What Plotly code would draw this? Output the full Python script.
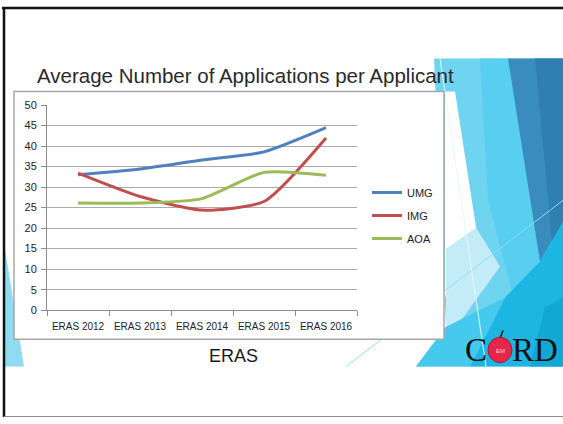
import plotly.graph_objects as go

years = ["ERAS 2012", "ERAS 2013", "ERAS 2014", "ERAS 2015", "ERAS 2016"]
umg = [33.0, 34.4, 36.6, 38.6, 44.5]
img = [33.4, 27.7, 24.4, 26.5, 42.0]
aoa = [26.1, 26.1, 27.2, 33.6, 32.9]

W, H = 563, 424


def px(x):
    return x / W


def py(y):
    return 1 - y / H


def poly(points, color):
    path = "M " + " L ".join(f"{px(x):.4f},{py(y):.4f}" for x, y in points) + " Z"
    return dict(type="path", path=path, xref="paper", yref="paper",
                fillcolor=color, line_width=0, layer="below")


def seg(x0, y0, x1, y1, color, width):
    return dict(type="line", xref="paper", yref="paper",
                x0=px(x0), y0=py(y0), x1=px(x1), y1=py(y1),
                line=dict(color=color, width=width), layer="below")


fig = go.Figure()

series = [("UMG", umg, "#4F81BD"), ("IMG", img, "#C0504D"), ("AOA", aoa, "#9BBB59")]
for name, vals, color in series:
    fig.add_trace(
        go.Scatter(
            x=years,
            y=vals,
            mode="lines",
            name=name,
            legendgroup=name,
            line=dict(color=color, width=3, shape="spline", smoothing=0.6),
        )
    )

shapes = [
    # slide decoration on the right
    poly([(434, 54), (563, 54), (563, 371), (416, 371), (446, 330)], "#6fd4ef"),
    poly([(480, 54), (508, 54), (540, 263), (515, 305), (488, 200)], "#58cef0"),
    poly([(445, 88), (455, 88), (476, 228), (445, 300)], "#ffffff"),
    poly([(446, 250), (476, 228), (500, 268), (446, 345)], "#c4ecf8"),
    poly([(508, 54), (563, 54), (563, 222), (540, 263)], "#3a8cbd"),
    poly([(535, 54), (563, 54), (563, 222), (552, 242)], "#2f7fb1"),
    poly([(470, 371), (563, 371), (563, 222), (540, 263), (505, 300)], "#1db5e2"),
    poly([(530, 371), (563, 371), (563, 300), (545, 310)], "#12a8d6"),
    poly([(416, 371), (470, 371), (505, 300), (446, 330)], "#45c9ec"),
    seg(346, 371, 563, 200, "#8fdcf3", 1),
    seg(440, 54, 486, 371, "#e6f7fc", 1),
    # left sliver
    poly([(5, 250), (24, 371), (5, 371)], "#8fdcf2"),
    # chart box
    dict(type="rect", xref="paper", yref="paper",
         x0=px(14), x1=px(444), y0=py(343), y1=py(88),
         fillcolor="white", line=dict(color="#a6a6a6", width=1.5), layer="below"),
    # slide frame
    seg(2, 2, 563, 2, "#111111", 2.5),
    seg(4, 2, 4, 423, "#111111", 2.5),
    seg(4, 422.5, 563, 422.5, "#8c8c8c", 1),
    # CORD apple
    dict(type="circle", xref="paper", yref="paper",
         x0=px(488), x1=px(512), y0=py(367), y1=py(341),
         fillcolor="#e5264a", line=dict(color="#b01535", width=1), layer="above"),
    seg(500, 342, 503, 334, "#111111", 1.5),
]

annotations = [
    dict(text="Average Number of Applications per Applicant", x=px(245), y=py(72),
         xref="paper", yref="paper", showarrow=False, xanchor="center", yanchor="middle",
         font=dict(family="Liberation Sans, Arial", size=20.5, color="#2a2a2a")),
    dict(text="ERAS", x=px(233), y=py(360),
         xref="paper", yref="paper", showarrow=False, xanchor="center", yanchor="middle",
         font=dict(family="Liberation Sans, Arial", size=18, color="#1a1a1a")),
    dict(text="C", x=px(489), y=py(354), xref="paper", yref="paper", showarrow=False,
         xanchor="right", yanchor="middle",
         font=dict(family="Liberation Serif, DejaVu Serif", size=33, color="#111111")),
    dict(text="RD", x=px(510), y=py(354), xref="paper", yref="paper", showarrow=False,
         xanchor="left", yanchor="middle",
         font=dict(family="Liberation Serif, DejaVu Serif", size=33, color="#111111")),
    dict(text="EM", x=px(500), y=py(355), xref="paper", yref="paper", showarrow=False,
         xanchor="center", yanchor="middle",
         font=dict(family="Liberation Sans, Arial", size=6, color="#ffd0d8")),
]

fig.update_layout(
    width=W,
    height=H,
    margin=dict(l=0, r=0, t=0, b=0),
    paper_bgcolor="white",
    plot_bgcolor="rgba(0,0,0,0)",
    shapes=shapes,
    annotations=annotations,
    font=dict(family="Liberation Sans, Arial", size=10, color="#222222"),
    showlegend=True,
    legend=dict(
        x=px(367), y=py(177), xanchor="left", yanchor="top",
        bgcolor="rgba(0,0,0,0)", font=dict(size=11, color="#222222"),
        traceorder="grouped", tracegroupgap=4, itemwidth=30,
    ),
    xaxis=dict(
        domain=[px(47), px(357)],
        range=[-0.5, 4.5],
        showgrid=False,
        showline=True,
        linecolor="#8c8c8c",
        linewidth=1,
        ticks="outside",
        tickson="boundaries",
        ticklen=5,
        tickcolor="#8c8c8c",
        ticklabelstandoff=7,
        tickfont=dict(size=10, color="#222222"),
        fixedrange=True,
    ),
    yaxis=dict(
        domain=[py(313), py(102)],
        range=[0, 50],
        dtick=5,
        showgrid=True,
        gridcolor="#ababab",
        gridwidth=1,
        zeroline=False,
        showline=True,
        linecolor="#8c8c8c",
        linewidth=1,
        ticks="outside",
        ticklen=5,
        tickcolor="#8c8c8c",
        ticklabelstandoff=2,
        tickfont=dict(size=11, color="#222222"),
        fixedrange=True,
    ),
)

# the page body has a default 8px margin; drop it so the slide sits at the window's corner
fig.write_html(
    "out.html",
    config={"displayModeBar": False},
    post_script="document.body.style.margin='0';document.body.style.overflow='hidden';",
)
